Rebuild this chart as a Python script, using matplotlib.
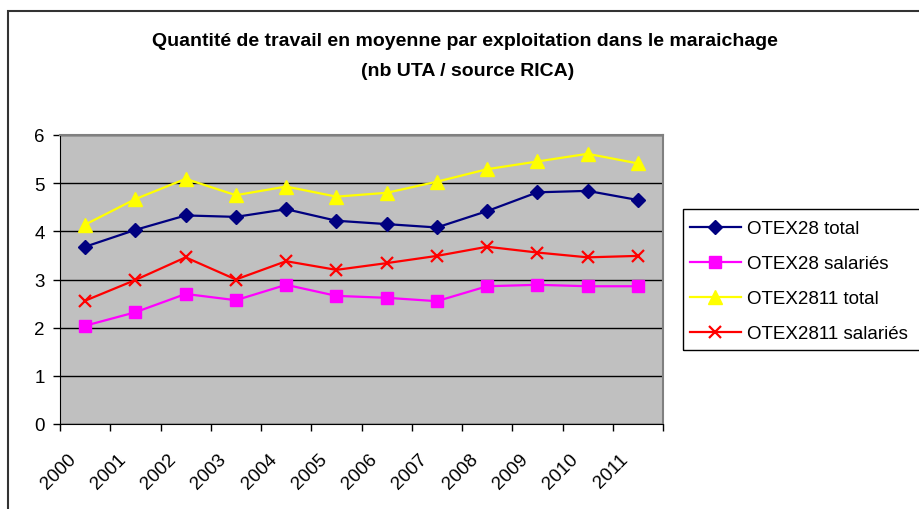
import matplotlib.pyplot as plt
import matplotlib.transforms as mtransforms
from matplotlib.patches import Rectangle

plt.rcParams['font.family'] = ['Liberation Sans', 'DejaVu Sans']

# Data (nb UTA per farm)
years = ['2000', '2001', '2002', '2003', '2004', '2005',
         '2006', '2007', '2008', '2009', '2010', '2011']
otex28_total = [3.68, 4.03, 4.33, 4.30, 4.46, 4.22, 4.15, 4.08, 4.42, 4.81, 4.84, 4.65]
otex28_salaries = [2.04, 2.32, 2.70, 2.57, 2.89, 2.66, 2.62, 2.55, 2.86, 2.89, 2.86, 2.86]
otex2811_total = [4.14, 4.67, 5.09, 4.75, 4.93, 4.72, 4.80, 5.03, 5.29, 5.45, 5.61, 5.41]
otex2811_salaries = [2.56, 2.99, 3.46, 3.00, 3.38, 3.20, 3.34, 3.49, 3.68, 3.56, 3.46, 3.49]

W, H = 919, 510
fig = plt.figure(figsize=(W / 100, H / 100), dpi=100)

# outer chart frame (cut by the picture edges)
fig.patches.append(Rectangle((8 / W, -0.1), 1.0, 1 - 12 / H + 0.1,
                             transform=fig.transFigure, fill=False,
                             edgecolor='#333333', linewidth=1.5))

# legend frame, also running past the right edge
fig.patches.append(Rectangle((683 / W, 1 - 351 / H), 1.0, 141 / H,
                             transform=fig.transFigure, fill=False,
                             edgecolor='black', linewidth=1))

ax = fig.add_axes([60 / W, (H - 425) / H, 603 / W, 289 / H])
ax.set_facecolor('#C0C0C0')

x = list(range(len(years)))
ax.plot(x, otex28_total, color='#000080', marker='D', markersize=7.5, lw=1.6,
        label='OTEX28 total')
ax.plot(x, otex28_salaries, color='#FF00FF', marker='s', markersize=8, lw=1.6,
        label='OTEX28 salariés')
ax.plot(x, otex2811_total, color='#FFFF00', marker='^', markersize=10, lw=1.6,
        label='OTEX2811 total')
ax.plot(x, otex2811_salaries, color='#FF0000', marker='x', markersize=8.5,
        markeredgewidth=1.6, lw=1.6, label='OTEX2811 salariés')

ax.set_xlim(-0.5, len(years) - 0.5)
ax.set_ylim(0, 6)
ax.set_yticks(range(0, 7))
ax.yaxis.grid(True, color='black', linewidth=1)
ax.set_axisbelow(True)

# tick marks on category borders, labels on category centres
ax.set_xticks([i - 0.5 for i in range(len(years) + 1)], minor=True)
ax.set_xticks(x)
ax.set_xticklabels(years, rotation=45, ha='right', va='top')
ax.tick_params(axis='x', which='major', length=0, pad=19)
ax.tick_params(axis='x', which='minor', length=5, width=1, direction='out')
ax.tick_params(axis='y', length=5, width=1, direction='out', pad=6)
ax.tick_params(labelsize=13.5)
shift = mtransforms.ScaledTranslation(-0.06, 0, fig.dpi_scale_trans)
for lab in ax.get_xticklabels():
    lab.set_transform(lab.get_transform() + shift)

for side in ['left', 'bottom']:
    ax.spines[side].set_color('black')
for side in ['top', 'right']:
    ax.spines[side].set_color('#808080')
    ax.spines[side].set_linewidth(1.5)

fig.text(465 / W, 1 - 46 / H,
         'Quantité de travail en moyenne par exploitation dans le maraichage',
         ha='center', va='baseline', fontsize=14, fontweight='bold')
fig.text(468 / W, 1 - 76 / H, '(nb UTA / source RICA)',
         ha='center', va='baseline', fontsize=14, fontweight='bold')

leg = ax.legend(loc='upper left', bbox_to_anchor=(683 / W, 1 - 214 / H),
                bbox_transform=fig.transFigure, fontsize=13.5, frameon=False,
                handlelength=2.7, borderaxespad=0, labelspacing=0.96,
                handletextpad=0.32, borderpad=0.37)

fig.savefig('out.png', dpi=100)
